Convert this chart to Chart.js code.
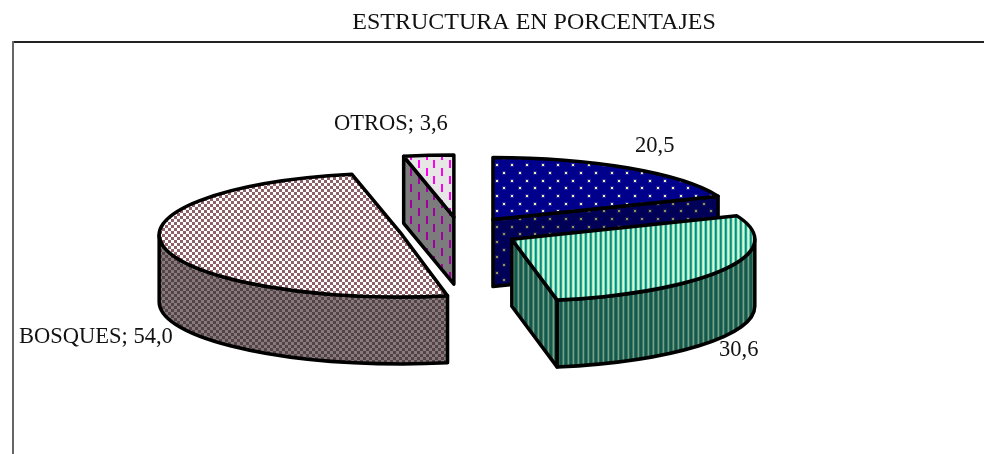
<!DOCTYPE html>
<html>
<head>
<meta charset="utf-8">
<style>html,body{margin:0;padding:0;background:#fff}canvas{display:block}</style>
<script src="https://cdn.jsdelivr.net/npm/chart.js@4"></script>
</head>
<body>
<canvas id="c" width="984" height="454"></canvas>
<script>
const titleText = "ESTRUCTURA EN PORCENTAJES";
const categories = ["", "", "BOSQUES", "OTROS"];
const values = [20.5, 30.6, 54.0, 3.6];

const LABEL_FONT = '22.5px "Liberation Serif", "Times New Roman", serif';
const TITLE_FONT = '24px "Liberation Serif", "Times New Roman", serif';
const SQUASH = 62 / 243, DEPTH = 67, LINE = 3.5;
const labelSpots = [[635,152],[719,356],[19,343],[334,130]];
const paintOrder = [3, 0, 2, 1];

function tile(w, h, draw) {
  const t = document.createElement('canvas');
  t.width = w; t.height = h;
  draw(t.getContext('2d'));
  return t;
}
const ctx0 = document.getElementById('c').getContext('2d');
function pat(w, h, draw) { return ctx0.createPattern(tile(w, h, draw), 'repeat'); }
function dots(bg, fg, halo) {
  return pat(46, 46, g => {
    g.fillStyle = bg; g.fillRect(0, 0, 46, 46);
    for (let r = 0; r < 6; r++) for (let c = 0; c < 3; c++) {
      const x = Math.round((5 + c * 15.33 + (r % 2) * 7.67) % 46);
      const y = Math.round((11 + r * 7.67) % 46);
      g.fillStyle = halo; g.fillRect(x - 1, y - 1, 4, 4);
      g.fillStyle = fg; g.fillRect(x, y, 2, 2);
    }
  });
}
function stripes(cols) {
  return pat(cols.length, 4, g => cols.forEach((c, i) => { g.fillStyle = c; g.fillRect(i, 0, 1, 4); }));
}
function checks(a, b) {
  return pat(6, 6, g => {
    g.fillStyle = a; g.fillRect(0, 0, 6, 6);
    g.fillStyle = b; g.fillRect(0, 0, 3, 3); g.fillRect(3, 3, 3, 3);
  });
}
function dashes(bg, fg) {
  return pat(46, 16, g => {
    g.fillStyle = bg; g.fillRect(0, 0, 46, 16);
    g.fillStyle = fg;
    for (let c = 0; c < 6; c++) {
      const x = Math.round(c * 7.67) + 4, y = c % 2 ? 8 : 0;
      g.fillRect(x, y, 2, 8);
    }
  });
}
const topFill = [
  dots('#00008c', '#f4f0b0', '#20209a'),
  stripes(['#0a8a7c', '#2f9f90', '#9ff0d0', '#e4f8c8', '#70dcc0']),
  checks('#ffffff', '#8e6068'),
  dashes('#e6e6e6', '#ff00f0')
];
const wallFill = [
  dots('#000058', '#8f8f60', '#141456'),
  stripes(['#12584c', '#12584c', '#3c7a6a', '#7a9f80', '#2c6c5c']),
  checks('#857a7c', '#554246'),
  dashes('#7c7c7c', '#a000a0')
];

const pie3d = {
  id: 'pie3d',
  beforeDatasetsDraw(chart) {
    const ctx = chart.ctx;
    const arcs = chart.getDatasetMeta(0).data;
    ctx.save();
    ctx.lineWidth = LINE;
    ctx.strokeStyle = '#000';
    ctx.lineJoin = 'round';
    const paint = f => { ctx.fillStyle = f; ctx.fill(); ctx.stroke(); };
    paintOrder.forEach(i => {
      const a = arcs[i], off = a.options.offset;
      const mid = (a.startAngle + a.endAngle) / 2;
      const cx = a.x + Math.cos(mid) * off;
      const cy = a.y + Math.sin(mid) * off * SQUASH;
      const r = a.outerRadius, ry = r * SQUASH;
      const face = t => {
        const ex = cx + Math.cos(t) * r, ey = cy + Math.sin(t) * ry;
        ctx.beginPath();
        ctx.moveTo(cx, cy); ctx.lineTo(ex, ey);
        ctx.lineTo(ex, ey + DEPTH); ctx.lineTo(cx, cy + DEPTH);
        ctx.closePath();
        paint(wallFill[i]);
      };
      if (Math.cos(a.startAngle) < -1e-6) face(a.startAngle);
      if (Math.cos(a.endAngle) > 1e-6) face(a.endAngle);
      const lo = Math.max(a.startAngle, 0), hi = Math.min(a.endAngle, Math.PI);
      if (hi > lo) {
        ctx.beginPath();
        ctx.ellipse(cx, cy, r, ry, 0, lo, hi);
        ctx.ellipse(cx, cy + DEPTH, r, ry, 0, hi, lo, true);
        ctx.closePath();
        paint(wallFill[i]);
      }
      ctx.beginPath();
      ctx.moveTo(cx, cy);
      ctx.ellipse(cx, cy, r, ry, 0, a.startAngle, a.endAngle);
      ctx.closePath();
      paint(topFill[i]);
    });
    ctx.restore();
    return false;
  },
  afterDraw(chart) {
    const ctx = chart.ctx;
    ctx.save();
    ctx.strokeStyle = '#222';
    ctx.lineWidth = 2;
    ctx.beginPath(); ctx.moveTo(984, 42); ctx.lineTo(13, 42); ctx.stroke();
    ctx.strokeStyle = '#666';
    ctx.beginPath(); ctx.moveTo(13, 41); ctx.lineTo(13, 454); ctx.stroke();
    ctx.fillStyle = '#111';
    ctx.font = LABEL_FONT;
    ctx.textAlign = 'left';
    ctx.textBaseline = 'alphabetic';
    values.forEach((v, i) => {
      const num = v.toFixed(1).replace('.', ',');
      const txt = categories[i] ? categories[i] + '; ' + num : num;
      ctx.fillText(txt, labelSpots[i][0], labelSpots[i][1]);
    });
    ctx.font = TITLE_FONT;
    ctx.textAlign = 'center';
    ctx.fillText(titleText, 534, 29);
    ctx.restore();
  }
};

new Chart(document.getElementById('c'), {
  type: 'pie',
  data: {
    labels: categories,
    datasets: [{
      data: values,
      radius: 243,
      offset: 59,
      borderWidth: 0,
      backgroundColor: topFill
    }]
  },
  options: {
    responsive: false,
    animation: false,
    layout: { padding: { left: 0, right: 64, top: 10, bottom: 0 } },
    plugins: { legend: { display: false }, tooltip: { enabled: false }, title: { display: false } }
  },
  plugins: [pie3d]
});
</script>
</body>
</html>
